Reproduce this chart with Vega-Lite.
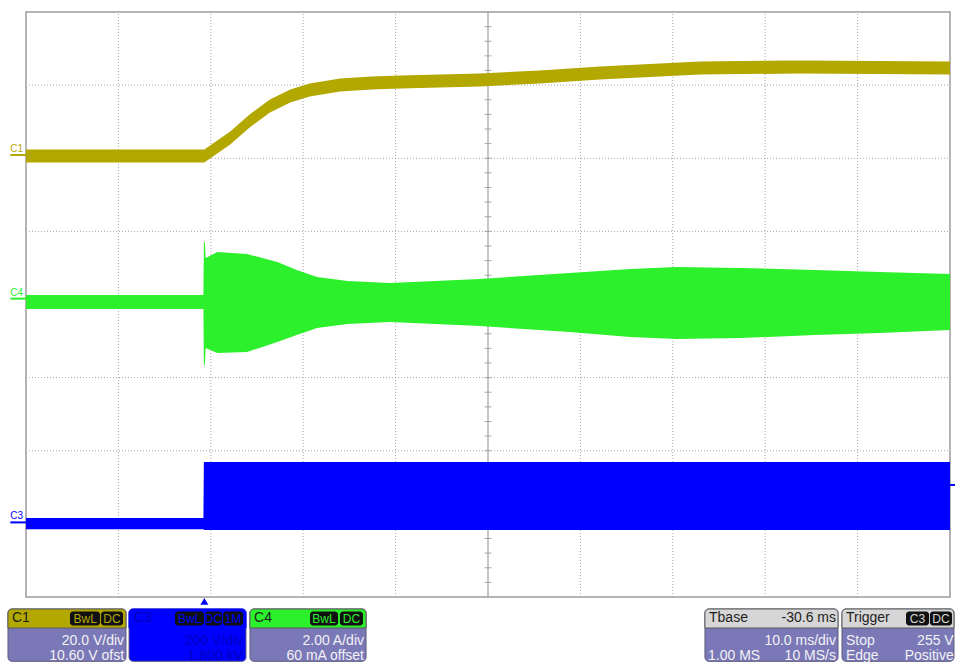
{
  "$schema": "https://vega.github.io/schema/vega-lite/v6.json",
  "width": 955,
  "height": 662,
  "padding": 0,
  "autosize": "none",
  "background": "white",
  "config": {"view": {"stroke": null}, "text": {"font": "Liberation Sans"}},
  "datasets": {
    "traces": [
      {"name": "C3", "t": -19.4, "hi": -2.92, "lo": -3.075},
      {"name": "C3", "t": -0.2, "hi": -2.92, "lo": -3.075},
      {"name": "C3", "t": -0.15, "hi": -2.154, "lo": -3.084},
      {"name": "C3", "t": 80.6, "hi": -2.154, "lo": -3.084},
      {"name": "C4", "t": -19.4, "hi": 0.13, "lo": -0.062},
      {"name": "C4", "t": -0.2, "hi": 0.13, "lo": -0.062},
      {"name": "C4", "t": -0.15, "hi": 0.855, "lo": -0.827},
      {"name": "C4", "t": -0.05, "hi": 0.855, "lo": -0.827},
      {"name": "C4", "t": 0.05, "hi": 0.636, "lo": -0.595},
      {"name": "C4", "t": 1.3, "hi": 0.718, "lo": -0.663},
      {"name": "C4", "t": 4.5, "hi": 0.691, "lo": -0.65},
      {"name": "C4", "t": 7.8, "hi": 0.581, "lo": -0.513},
      {"name": "C4", "t": 9.9, "hi": 0.472, "lo": -0.417},
      {"name": "C4", "t": 12.1, "hi": 0.376, "lo": -0.321},
      {"name": "C4", "t": 15.4, "hi": 0.321, "lo": -0.267},
      {"name": "C4", "t": 20.0, "hi": 0.294, "lo": -0.239},
      {"name": "C4", "t": 29.7, "hi": 0.349, "lo": -0.294},
      {"name": "C4", "t": 39.4, "hi": 0.431, "lo": -0.376},
      {"name": "C4", "t": 46.0, "hi": 0.485, "lo": -0.444},
      {"name": "C4", "t": 51.0, "hi": 0.513, "lo": -0.472},
      {"name": "C4", "t": 58.0, "hi": 0.499, "lo": -0.458},
      {"name": "C4", "t": 66.0, "hi": 0.472, "lo": -0.417},
      {"name": "C4", "t": 73.0, "hi": 0.444, "lo": -0.39},
      {"name": "C4", "t": 80.6, "hi": 0.417, "lo": -0.349},
      {"name": "C1", "t": -19.4, "hi": 2.12, "lo": 1.942},
      {"name": "C1", "t": -0.1, "hi": 2.12, "lo": 1.942},
      {"name": "C1", "t": 2.7, "hi": 2.366, "lo": 2.188},
      {"name": "C1", "t": 4.8, "hi": 2.598, "lo": 2.42},
      {"name": "C1", "t": 7.0, "hi": 2.804, "lo": 2.626},
      {"name": "C1", "t": 9.2, "hi": 2.941, "lo": 2.763},
      {"name": "C1", "t": 11.3, "hi": 3.023, "lo": 2.845},
      {"name": "C1", "t": 14.6, "hi": 3.091, "lo": 2.913},
      {"name": "C1", "t": 18.0, "hi": 3.118, "lo": 2.94},
      {"name": "C1", "t": 21.1, "hi": 3.132, "lo": 2.954},
      {"name": "C1", "t": 29.7, "hi": 3.159, "lo": 2.981},
      {"name": "C1", "t": 36.2, "hi": 3.2, "lo": 3.022},
      {"name": "C1", "t": 42.7, "hi": 3.254, "lo": 3.076},
      {"name": "C1", "t": 49.2, "hi": 3.296, "lo": 3.118},
      {"name": "C1", "t": 53.5, "hi": 3.323, "lo": 3.145},
      {"name": "C1", "t": 64.4, "hi": 3.337, "lo": 3.159},
      {"name": "C1", "t": 80.6, "hi": 3.323, "lo": 3.145}
    ],
    "vgrid": [{"t": -9.4}, {"t": 0.6}, {"t": 10.6}, {"t": 20.6}, {"t": 40.6}, {"t": 50.6}, {"t": 60.6}, {"t": 70.6}],
    "hgrid": [{"y": -3}, {"y": -2}, {"y": -1}, {"y": 1}, {"y": 2}, {"y": 3}],
    "xticks": [{"t": -17.4}, {"t": -15.4}, {"t": -13.4}, {"t": -11.4}, {"t": -9.4}, {"t": -7.4}, {"t": -5.4}, {"t": -3.4}, {"t": -1.4}, {"t": 0.6}, {"t": 2.6}, {"t": 4.6}, {"t": 6.6}, {"t": 8.6}, {"t": 10.6}, {"t": 12.6}, {"t": 14.6}, {"t": 16.6}, {"t": 18.6}, {"t": 20.6}, {"t": 22.6}, {"t": 24.6}, {"t": 26.6}, {"t": 28.6}, {"t": 32.6}, {"t": 34.6}, {"t": 36.6}, {"t": 38.6}, {"t": 40.6}, {"t": 42.6}, {"t": 44.6}, {"t": 46.6}, {"t": 48.6}, {"t": 50.6}, {"t": 52.6}, {"t": 54.6}, {"t": 56.6}, {"t": 58.6}, {"t": 60.6}, {"t": 62.6}, {"t": 64.6}, {"t": 66.6}, {"t": 68.6}, {"t": 70.6}, {"t": 72.6}, {"t": 74.6}, {"t": 76.6}, {"t": 78.6}],
    "yticks": [{"y": -3.8}, {"y": -3.6}, {"y": -3.4}, {"y": -3.2}, {"y": -3.0}, {"y": -2.8}, {"y": -2.6}, {"y": -2.4}, {"y": -2.2}, {"y": -2.0}, {"y": -1.8}, {"y": -1.6}, {"y": -1.4}, {"y": -1.2}, {"y": -1.0}, {"y": -0.8}, {"y": -0.6}, {"y": -0.4}, {"y": -0.2}, {"y": 0.2}, {"y": 0.4}, {"y": 0.6}, {"y": 0.8}, {"y": 1.0}, {"y": 1.2}, {"y": 1.4}, {"y": 1.6}, {"y": 1.8}, {"y": 2.0}, {"y": 2.2}, {"y": 2.4}, {"y": 2.6}, {"y": 2.8}, {"y": 3.0}, {"y": 3.2}, {"y": 3.4}, {"y": 3.6}, {"y": 3.8}],
    "chmarks": [{"name": "C1", "y": 2.044}, {"name": "C4", "y": 0.08}, {"name": "C3", "y": -2.98}],
    "boxes": [
      {"name": "C1", "t": -21.35, "t2": -8.58},
      {"name": "C3", "t": -8.25, "t2": 4.41},
      {"name": "C4", "t": 4.84, "t2": 17.4},
      {"name": "Tbase", "t": 54.08, "t2": 68.48},
      {"name": "Trigger", "t": 68.91, "t2": 81.03}
    ],
    "headtext": [
      {"name": "C1", "t": -20.92, "label": "C1"},
      {"name": "C3", "t": -7.71, "label": "C3"},
      {"name": "C4", "t": 5.28, "label": "C4"},
      {"name": "Tbase", "t": 54.52, "label": "Tbase"},
      {"name": "Trigger", "t": 69.34, "label": "Trigger"}
    ],
    "badges": [
      {"name": "C1", "label": "BwL", "t": -14.64, "t2": -11.39, "tm": -13.0},
      {"name": "C1", "label": "DC", "t": -11.28, "t2": -8.9, "tm": -10.09},
      {"name": "C3", "label": "BwL", "t": -3.27, "t2": -0.14, "tm": -1.7},
      {"name": "C3", "label": "DC", "t": -0.03, "t2": 1.81, "tm": 0.89},
      {"name": "C3", "label": "1M", "t": 1.92, "t2": 4.09, "tm": 3.0},
      {"name": "C4", "label": "BwL", "t": 11.34, "t2": 14.37, "tm": 12.85},
      {"name": "C4", "label": "DC", "t": 14.58, "t2": 17.07, "tm": 15.82},
      {"name": "Trigger", "label": "C3", "t": 75.84, "t2": 78.33, "tm": 77.08},
      {"name": "Trigger", "label": "DC", "t": 78.43, "t2": 80.82, "tm": 79.62}
    ],
    "bodyright": [
      {"name": "C1", "t": -8.79, "y": -4.65, "label": "20.0 V/div"},
      {"name": "C1", "t": -8.79, "y": -4.862, "label": "10.60 V ofst"},
      {"name": "C3", "t": 4.09, "y": -4.65, "label": "200 V/div"},
      {"name": "C3", "t": 4.09, "y": -4.862, "label": "1.800 kV"},
      {"name": "C4", "t": 17.18, "y": -4.65, "label": "2.00 A/div"},
      {"name": "C4", "t": 17.18, "y": -4.862, "label": "60 mA offset"},
      {"name": "Tbase", "t": 68.26, "y": -4.342, "label": "-30.6 ms"},
      {"name": "Tbase", "t": 68.26, "y": -4.65, "label": "10.0 ms/div"},
      {"name": "Tbase", "t": 68.26, "y": -4.862, "label": "10 MS/s"},
      {"name": "Trigger", "t": 81.0, "y": -4.65, "label": "255 V"},
      {"name": "Trigger", "t": 81.0, "y": -4.862, "label": "Positive"}
    ],
    "bodyleft": [
      {"name": "Tbase", "t": 54.41, "y": -4.862, "label": "1.00 MS"},
      {"name": "Trigger", "t": 69.34, "y": -4.65, "label": "Stop"},
      {"name": "Trigger", "t": 69.34, "y": -4.862, "label": "Edge"}
    ]
  },
  "layer": [
    {
      "data": {"values": [{}]},
      "mark": {"type": "rect", "fill": "white", "stroke": "#9c9c9c", "strokeWidth": 1.5},
      "encoding": {
        "x": {"datum": -19.4, "type": "quantitative", "scale": {"domain": [-22.214, 81.141], "nice": false, "zero": false}, "axis": null},
        "x2": {"datum": 80.6},
        "y": {"datum": -4, "type": "quantitative", "scale": {"domain": [-4.889, 4.164], "nice": false, "zero": false}, "axis": null},
        "y2": {"datum": 4}
      }
    },
    {
      "data": {"name": "vgrid"},
      "mark": {"type": "rule", "stroke": "#a6a6a6", "strokeWidth": 1, "strokeDash": [1, 2]},
      "encoding": {
        "x": {"field": "t", "type": "quantitative", "scale": {"domain": [-22.214, 81.141], "nice": false, "zero": false}, "axis": null},
        "y": {"datum": -4, "type": "quantitative", "scale": {"domain": [-4.889, 4.164], "nice": false, "zero": false}, "axis": null},
        "y2": {"datum": 4}
      }
    },
    {
      "data": {"name": "hgrid"},
      "mark": {"type": "rule", "stroke": "#a6a6a6", "strokeWidth": 1, "strokeDash": [1, 2]},
      "encoding": {
        "y": {"field": "y", "type": "quantitative", "scale": {"domain": [-4.889, 4.164], "nice": false, "zero": false}, "axis": null},
        "x": {"datum": -19.4, "type": "quantitative", "scale": {"domain": [-22.214, 81.141], "nice": false, "zero": false}, "axis": null},
        "x2": {"datum": 80.6}
      }
    },
    {
      "data": {"values": [{}]},
      "mark": {"type": "rule", "stroke": "#8c8c8c", "strokeWidth": 1},
      "encoding": {
        "x": {"datum": 30.6, "type": "quantitative", "scale": {"domain": [-22.214, 81.141], "nice": false, "zero": false}, "axis": null},
        "y": {"datum": -4, "type": "quantitative", "scale": {"domain": [-4.889, 4.164], "nice": false, "zero": false}, "axis": null},
        "y2": {"datum": 4}
      }
    },
    {
      "data": {"values": [{}]},
      "mark": {"type": "rule", "stroke": "#8c8c8c", "strokeWidth": 1},
      "encoding": {
        "y": {"datum": 0, "type": "quantitative", "scale": {"domain": [-4.889, 4.164], "nice": false, "zero": false}, "axis": null},
        "x": {"datum": -19.4, "type": "quantitative", "scale": {"domain": [-22.214, 81.141], "nice": false, "zero": false}, "axis": null},
        "x2": {"datum": 80.6}
      }
    },
    {
      "data": {"name": "xticks"},
      "mark": {"type": "tick", "orient": "vertical", "size": 7, "thickness": 1, "color": "#8c8c8c"},
      "encoding": {
        "x": {"field": "t", "type": "quantitative", "scale": {"domain": [-22.214, 81.141], "nice": false, "zero": false}, "axis": null},
        "y": {"datum": 0, "type": "quantitative", "scale": {"domain": [-4.889, 4.164], "nice": false, "zero": false}, "axis": null}
      }
    },
    {
      "data": {"name": "yticks"},
      "mark": {"type": "tick", "orient": "horizontal", "size": 7, "thickness": 1, "color": "#8c8c8c"},
      "encoding": {
        "y": {"field": "y", "type": "quantitative", "scale": {"domain": [-4.889, 4.164], "nice": false, "zero": false}, "axis": null},
        "x": {"datum": 30.6, "type": "quantitative", "scale": {"domain": [-22.214, 81.141], "nice": false, "zero": false}, "axis": null}
      }
    },
    {
      "data": {"name": "traces"},
      "mark": {"type": "area", "interpolate": "linear", "opacity": 1},
      "encoding": {
        "x": {"field": "t", "type": "quantitative", "scale": {"domain": [-22.214, 81.141], "nice": false, "zero": false}, "axis": null},
        "y": {"field": "hi", "type": "quantitative", "scale": {"domain": [-4.889, 4.164], "nice": false, "zero": false}, "axis": null},
        "y2": {"field": "lo"},
        "color": {"field": "name", "type": "nominal", "scale": {"domain": ["C1", "C3", "C4", "Tbase", "Trigger"], "range": ["#b3a800", "#0000ff", "#2cf02c", "#d6d6d6", "#d6d6d6"]}, "legend": null},
        "detail": {"field": "name"}
      }
    },
    {
      "data": {"name": "chmarks"},
      "mark": {"type": "rule", "strokeWidth": 2},
      "encoding": {
        "y": {"field": "y", "type": "quantitative", "scale": {"domain": [-4.889, 4.164], "nice": false, "zero": false}, "axis": null},
        "x": {"datum": -21.1, "type": "quantitative", "scale": {"domain": [-22.214, 81.141], "nice": false, "zero": false}, "axis": null},
        "x2": {"datum": -19.4},
        "color": {"field": "name", "type": "nominal", "legend": null}
      }
    },
    {
      "data": {"name": "chmarks"},
      "mark": {"type": "text", "align": "left", "baseline": "alphabetic", "dy": -3, "fontSize": 10},
      "encoding": {
        "y": {"field": "y", "type": "quantitative", "scale": {"domain": [-4.889, 4.164], "nice": false, "zero": false}, "axis": null},
        "x": {"datum": -21.1, "type": "quantitative", "scale": {"domain": [-22.214, 81.141], "nice": false, "zero": false}, "axis": null},
        "text": {"field": "name"},
        "color": {"field": "name", "type": "nominal", "legend": null}
      }
    },
    {
      "data": {"values": [{}]},
      "mark": {"type": "rule", "stroke": "#0000ff", "strokeWidth": 2},
      "encoding": {
        "y": {"datum": -2.468, "type": "quantitative", "scale": {"domain": [-4.889, 4.164], "nice": false, "zero": false}, "axis": null},
        "x": {"datum": 80.6, "type": "quantitative", "scale": {"domain": [-22.214, 81.141], "nice": false, "zero": false}, "axis": null},
        "x2": {"datum": 81.14}
      }
    },
    {
      "data": {"values": [{}]},
      "mark": {"type": "point", "shape": "triangle-up", "filled": true, "size": 65, "color": "#0000ff", "opacity": 1},
      "encoding": {
        "y": {"datum": -4.06, "type": "quantitative", "scale": {"domain": [-4.889, 4.164], "nice": false, "zero": false}, "axis": null},
        "x": {"datum": -0.1, "type": "quantitative", "scale": {"domain": [-22.214, 81.141], "nice": false, "zero": false}, "axis": null}
      }
    },
    {
      "data": {"name": "boxes"},
      "mark": {"type": "rect", "cornerRadius": 4, "stroke": "#5c5c7c", "strokeWidth": 1},
      "encoding": {
        "x": {"field": "t", "type": "quantitative", "scale": {"domain": [-22.214, 81.141], "nice": false, "zero": false}, "axis": null},
        "x2": {"field": "t2"},
        "y": {"datum": -4.164, "type": "quantitative", "scale": {"domain": [-4.889, 4.164], "nice": false, "zero": false}, "axis": null},
        "y2": {"datum": -4.88},
        "fill": {"condition": {"test": "datum.name === 'C3'", "value": "#0000ff"}, "value": "#7b78b8"}
      }
    },
    {
      "data": {"name": "boxes"},
      "mark": {"type": "rect", "cornerRadiusTopLeft": 4, "cornerRadiusTopRight": 4, "strokeWidth": 1},
      "encoding": {
        "x": {"field": "t", "type": "quantitative", "scale": {"domain": [-22.214, 81.141], "nice": false, "zero": false}, "axis": null},
        "x2": {"field": "t2"},
        "y": {"datum": -4.164, "type": "quantitative", "scale": {"domain": [-4.889, 4.164], "nice": false, "zero": false}, "axis": null},
        "y2": {"datum": -4.424},
        "color": {"field": "name", "type": "nominal", "legend": null},
        "stroke": {"condition": {"test": "datum.name === 'C3'", "value": "#0000ff"}, "value": "#5c5c5c"}
      }
    },
    {
      "data": {"name": "headtext"},
      "mark": {"type": "text", "align": "left", "baseline": "alphabetic", "fontSize": 14},
      "encoding": {
        "x": {"field": "t", "type": "quantitative", "scale": {"domain": [-22.214, 81.141], "nice": false, "zero": false}, "axis": null},
        "y": {"datum": -4.342, "type": "quantitative", "scale": {"domain": [-4.889, 4.164], "nice": false, "zero": false}, "axis": null},
        "text": {"field": "label"},
        "fill": {"condition": {"test": "datum.name === 'C3'", "value": "#0000b8"}, "value": "#1e1e1e"}
      }
    },
    {
      "data": {"name": "badges"},
      "mark": {"type": "rect", "cornerRadius": 3, "fill": "#111111"},
      "encoding": {
        "x": {"field": "t", "type": "quantitative", "scale": {"domain": [-22.214, 81.141], "nice": false, "zero": false}, "axis": null},
        "x2": {"field": "t2"},
        "y": {"datum": -4.2, "type": "quantitative", "scale": {"domain": [-4.889, 4.164], "nice": false, "zero": false}, "axis": null},
        "y2": {"datum": -4.39}
      }
    },
    {
      "data": {"name": "badges"},
      "mark": {"type": "text", "align": "center", "baseline": "alphabetic", "fontSize": 12},
      "encoding": {
        "x": {"field": "tm", "type": "quantitative", "scale": {"domain": [-22.214, 81.141], "nice": false, "zero": false}, "axis": null},
        "y": {"datum": -4.36, "type": "quantitative", "scale": {"domain": [-4.889, 4.164], "nice": false, "zero": false}, "axis": null},
        "text": {"field": "label"},
        "color": {"field": "name", "type": "nominal", "legend": null}
      }
    },
    {
      "data": {"name": "bodyright"},
      "mark": {"type": "text", "align": "right", "baseline": "alphabetic", "fontSize": 14},
      "encoding": {
        "x": {"field": "t", "type": "quantitative", "scale": {"domain": [-22.214, 81.141], "nice": false, "zero": false}, "axis": null},
        "y": {"field": "y", "type": "quantitative", "scale": {"domain": [-4.889, 4.164], "nice": false, "zero": false}, "axis": null},
        "text": {"field": "label"},
        "fill": {"condition": [{"test": "datum.name === 'C3'", "value": "#0000c0"}, {"test": "datum.y > -4.4", "value": "#1e1e1e"}], "value": "#f2f2f2"}
      }
    },
    {
      "data": {"name": "bodyleft"},
      "mark": {"type": "text", "align": "left", "baseline": "alphabetic", "fontSize": 14, "fill": "#f2f2f2"},
      "encoding": {
        "x": {"field": "t", "type": "quantitative", "scale": {"domain": [-22.214, 81.141], "nice": false, "zero": false}, "axis": null},
        "y": {"field": "y", "type": "quantitative", "scale": {"domain": [-4.889, 4.164], "nice": false, "zero": false}, "axis": null},
        "text": {"field": "label"}
      }
    }
  ]
}
